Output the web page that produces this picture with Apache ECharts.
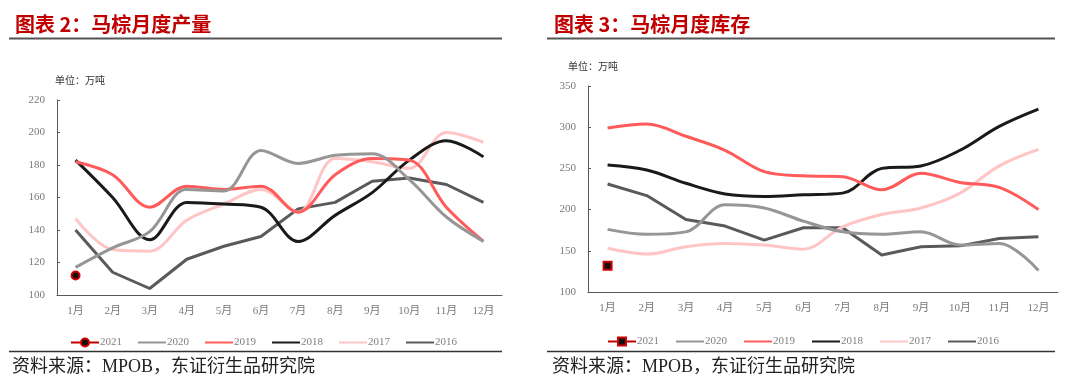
<!DOCTYPE html>
<html><head><meta charset="utf-8">
<script src="https://cdn.jsdelivr.net/npm/echarts@6/dist/echarts.min.js"></script>
<style>html,body{margin:0;padding:0;background:#fff;}#c1{position:absolute;left:0;top:0;width:540px;height:387px;}#c2{position:absolute;left:540px;top:0;width:540px;height:387px;}</style>
</head><body>
<div id="c1"></div><div id="c2"></div>
<script>
const months = ['1月','2月','3月','4月','5月','6月','7月','8月','9月','10月','11月','12月'];
const years = ['2021','2020','2019','2018','2017','2016'];
// 马棕月度产量 (万吨)
const prod2021 = [112];
const prod2020 = [117,129,139,165,164,189,181,186,187,171,148,133];
const prod2019 = [182,174,154,167,165,167,151,174,184,183,154,133];
const prod2018 = [183,160,134,157,156,154,133,149,163,183,195,185];
const prod2017 = [147,128,127,146,156,165,151,184,182,178,200,194];
const prod2016 = [140,114,104,122,130,136,153,157,170,172,168,157];
// 马棕月度库存 (万吨)
const stock2021 = [132];
const stock2020 = [176,170,173,206,202,186,173,170,173,157,159,126];
const stock2019 = [299,304,289,272,246,241,240,224,244,233,227,200];
const stock2018 = [254,248,232,219,216,218,220,250,253,272,301,322];
const stock2017 = [153,146,155,159,157,152,179,194,202,220,253,273];
const stock2016 = [231,217,188,180,163,178,178,145,155,156,165,167];
const prodTicks = {min:100,max:220,interval:20};
const stockTicks = {min:100,max:350,interval:50};

const colors = {'2021':'#C00000','2020':'#969696','2019':'#FF5B5B','2018':'#1A1A1A','2017':'#FFC4C4','2016':'#5A5A5A'};
const serif = '"Liberation Serif","Noto Sans CJK SC"';

function buildSeries(arrs){
  return years.map((y,i)=>{
    const base = {name:y,type:'line',data:arrs[i],smooth:(y!=='2016')?0.35:false,
      lineStyle:{color:colors[y],width:3},itemStyle:{color:colors[y]},z:10-i};
    if(y==='2021'){
      base.symbol = arrs.marker; base.symbolSize = 8; base.showSymbol = true;
      base.itemStyle = {color:'#111',borderColor:'#D00000',borderWidth:2};
      base.lineStyle = {color:'#C00000',width:3};
    } else { base.symbol='none'; }
    return base;
  });
}

const legendData = years.map(y => y==='2021' ? {name:y} : {name:y, itemStyle:{opacity:0}});

function makeOption(cfg){
  return {
    animation:false,
    title:{text:cfg.title,left:cfg.titleLeft,top:9,textStyle:{color:'#C00000',fontSize:20,fontWeight:'bold',fontFamily:'"Noto Sans CJK SC"'}},
    legend:{data:legendData,left:cfg.legendLeft,top:cfg.legendTop,padding:0,itemWidth:28,itemHeight:10,itemGap:cfg.legendGap,
      textStyle:{color:'#808080',fontSize:11,fontFamily:serif,padding:[0,0,0,-4]}},
    grid:{left:cfg.gridLeft,right:cfg.gridRight,top:cfg.gridTop,bottom:cfg.gridBottom},
    xAxis:{type:'category',data:months,boundaryGap:true,
      axisLine:{lineStyle:{color:'#595959',width:1}},
      axisTick:{inside:true,length:4,lineStyle:{color:'#595959'}},
      axisLabel:{color:'#7a7a7a',fontSize:11,fontFamily:serif,margin:11}},
    yAxis:{type:'value',min:cfg.ticks.min,max:cfg.ticks.max,interval:cfg.ticks.interval,
      axisLine:{show:true,lineStyle:{color:'#595959',width:1}},
      axisTick:{show:true,inside:true,length:3,lineStyle:{color:'#595959'}},
      splitLine:{show:false},
      axisLabel:{color:'#7a7a7a',fontSize:11,fontFamily:serif,margin:12}},
    graphic:[
      {type:'line',shape:{x1:cfg.ruleX1,y1:38.5,x2:cfg.ruleX2,y2:38.5},style:{stroke:'#555',lineWidth:2}},
      {type:'line',shape:{x1:cfg.ruleX1,y1:351.5,x2:cfg.ruleX2,y2:351.5},style:{stroke:'#333',lineWidth:1.5}},
      {type:'text',left:cfg.unitLeft,top:cfg.unitTop,style:{text:'单位：万吨',fill:'#333',fontSize:10,fontFamily:'"Noto Sans CJK SC"'}},
      {type:'text',left:cfg.srcLeft,top:358,style:{text:'资料来源：MPOB，东证衍生品研究院',fill:'#222',fontSize:18,fontFamily:serif}}
    ],
    series:cfg.series
  };
}

const s1 = [prod2021,prod2020,prod2019,prod2018,prod2017,prod2016]; s1.marker='circle';
const s2 = [stock2021,stock2020,stock2019,stock2018,stock2017,stock2016]; s2.marker='rect';

const c1 = echarts.init(document.getElementById('c1'),null,{renderer:'canvas'});
c1.setOption(makeOption({title:'图表 2：马棕月度产量',titleLeft:10,legendLeft:70,legendTop:337,legendGap:15,
  gridLeft:57,gridRight:38,gridTop:100,gridBottom:92,ticks:prodTicks,ruleX1:9,ruleX2:502,
  unitLeft:55,unitTop:75,srcLeft:12,series:buildSeries(s1)}));

const c2 = echarts.init(document.getElementById('c2'),null,{renderer:'canvas'});
c2.setOption(makeOption({title:'图表 3：马棕月度库存',titleLeft:9,legendLeft:67,legendTop:336,legendGap:16,
  gridLeft:48,gridRight:22,gridTop:86,gridBottom:95,ticks:stockTicks,ruleX1:7,ruleX2:515,
  unitLeft:28,unitTop:61,srcLeft:12,series:buildSeries(s2)}));
</script>
</body></html>
